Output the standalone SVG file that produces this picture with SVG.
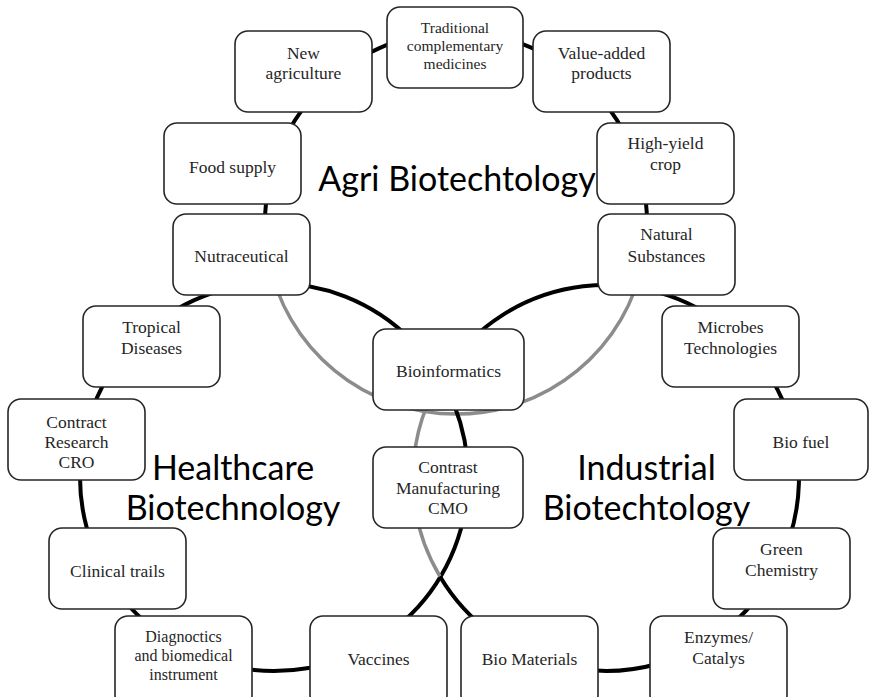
<svg xmlns="http://www.w3.org/2000/svg" width="869" height="697" viewBox="0 0 869 697">
<style>
.bk{fill:none;stroke:#000;stroke-width:4}
.gr{fill:none;stroke:#8c8c8c;stroke-width:3.5}
.box{fill:#fff;stroke:#262626;stroke-width:1.6}
.t{font-family:"Liberation Serif","Times New Roman",serif;font-size:17.5px;fill:#262626;text-anchor:middle}
.ts{font-size:15.5px}
.tm{font-size:16px}
.big{font-family:Lato,"Liberation Sans",sans-serif;font-size:34px;fill:#000;text-anchor:middle}
</style>
<rect width="869" height="697" fill="#fff"/>
<g id="connectors">
<path class="gr" d="M268.6 260 A191 191 0 0 0 643.4 260"/>
<path class="bk" d="M643.4 260 A191 191 0 1 0 268.6 260"/>
<circle class="bk" cx="274" cy="477" r="194"/>
<path class="gr" d="M446 370 A193 193 0 0 0 440 576.5"/>
<path class="bk" d="M440 576.5 A193 193 0 1 0 446 370"/>
</g>
<g id="n1"><rect class="box" x="387" y="7" width="136" height="81" rx="13"/><text class="t ts" x="455" y="33">Traditional</text><text class="t ts" x="455" y="51">complementary</text><text class="t ts" x="455" y="69">medicines</text></g>
<g id="n2"><rect class="box" x="235" y="31" width="137" height="81" rx="13"/><text class="t" x="303.5" y="59">New</text><text class="t" x="303.5" y="79">agriculture</text></g>
<g id="n3"><rect class="box" x="533" y="31" width="137" height="81" rx="13"/><text class="t" x="601.5" y="59">Value-added</text><text class="t" x="601.5" y="79">products</text></g>
<g id="n4"><rect class="box" x="164" y="123" width="137" height="81" rx="13"/><text class="t" x="232.5" y="173">Food supply</text></g>
<g id="n5"><rect class="box" x="597" y="123" width="137" height="81" rx="13"/><text class="t" x="665.5" y="149">High-yield</text><text class="t" x="665.5" y="170">crop</text></g>
<g id="n6"><rect class="box" x="173" y="214" width="137" height="81" rx="13"/><text class="t" x="241.5" y="262">Nutraceutical</text></g>
<g id="n7"><rect class="box" x="598" y="214" width="137" height="81" rx="13"/><text class="t" x="666.5" y="240">Natural</text><text class="t" x="666.5" y="262">Substances</text></g>
<g id="n8"><rect class="box" x="83" y="306" width="137" height="81" rx="13"/><text class="t" x="151.5" y="333">Tropical</text><text class="t" x="151.5" y="354">Diseases</text></g>
<g id="n9"><rect class="box" x="662" y="306" width="137" height="81" rx="13"/><text class="t" x="730.5" y="333">Microbes</text><text class="t" x="730.5" y="354">Technologies</text></g>
<g id="n10"><rect class="box" x="373" y="329" width="151" height="81" rx="13"/><text class="t" x="448.5" y="377">Bioinformatics</text></g>
<g id="n11"><rect class="box" x="8" y="399" width="137" height="81" rx="13"/><text class="t" x="76.5" y="428">Contract</text><text class="t" x="76.5" y="448">Research</text><text class="t" x="76.5" y="468">CRO</text></g>
<g id="n12"><rect class="box" x="734" y="399" width="134" height="81" rx="13"/><text class="t" x="801" y="448">Bio fuel</text></g>
<g id="n13"><rect class="box" x="373" y="447" width="150" height="81" rx="13"/><text class="t" x="448" y="473">Contrast</text><text class="t" x="448" y="494">Manufacturing</text><text class="t" x="448" y="514">CMO</text></g>
<g id="n14"><rect class="box" x="49" y="528" width="137" height="81" rx="13"/><text class="t" x="117.5" y="577">Clinical trails</text></g>
<g id="n15"><rect class="box" x="713" y="528" width="137" height="81" rx="13"/><text class="t" x="781.5" y="555">Green</text><text class="t" x="781.5" y="576">Chemistry</text></g>
<g id="n16"><rect class="box" x="115" y="616" width="137" height="92" rx="13"/><text class="t tm" x="183.5" y="642">Diagnoctics</text><text class="t tm" x="183.5" y="661">and biomedical</text><text class="t tm" x="183.5" y="680">instrument</text></g>
<g id="n17"><rect class="box" x="310" y="616" width="137" height="92" rx="13"/><text class="t" x="378.5" y="665">Vaccines</text></g>
<g id="n18"><rect class="box" x="461" y="616" width="137" height="92" rx="13"/><text class="t" x="529.5" y="665">Bio Materials</text></g>
<g id="n19"><rect class="box" x="650" y="616" width="137" height="92" rx="13"/><text class="t" x="718.5" y="643">Enzymes/</text><text class="t" x="718.5" y="664">Catalys</text></g>
<g id="titles">
<text class="big" x="457" y="191">Agri Biotechtology</text>
<text class="big" x="233" y="480">Healthcare</text>
<text class="big" x="233" y="520">Biotechnology</text>
<text class="big" x="646.5" y="480">Industrial</text>
<text class="big" x="646.5" y="520">Biotechtology</text>
</g>
</svg>
